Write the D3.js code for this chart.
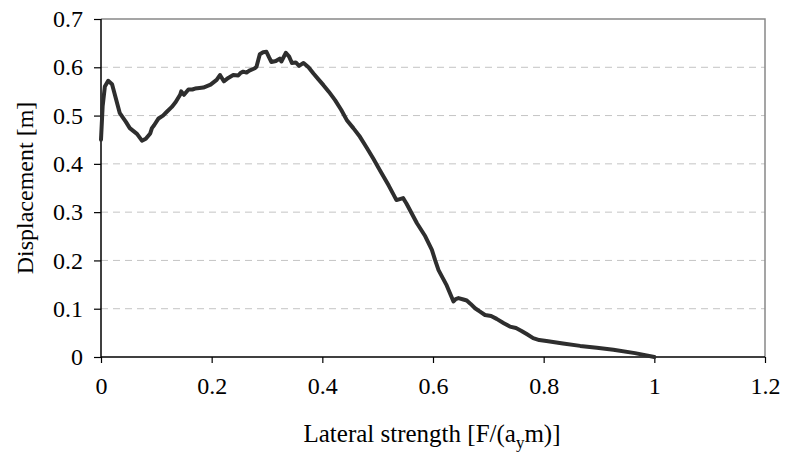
<!DOCTYPE html>
<html>
<head>
<meta charset="utf-8">
<script src="https://cdn.jsdelivr.net/npm/d3@7"></script>
<style>
  body { margin: 0; background: #fff; }
  svg text { font-family: "Liberation Serif", "Times New Roman", serif; fill: #000; }
</style>
</head>
<body>
<div class="dataviz"></div>
<script>
// lateral strength F/(ay m)
const strength = [0, 0.003, 0.007, 0.013, 0.02, 0.034, 0.045, 0.052, 0.065, 0.074, 0.081, 0.089, 0.092, 0.096, 0.104, 0.112, 0.119, 0.128, 0.135,
  0.143, 0.145, 0.150, 0.158, 0.165, 0.170, 0.178, 0.185, 0.198, 0.209, 0.215, 0.222, 0.230, 0.239, 0.248, 0.252, 0.257, 0.263, 0.268, 0.274, 0.278,
  0.281, 0.287, 0.293, 0.299, 0.304, 0.308, 0.316, 0.323, 0.326, 0.334, 0.340, 0.345, 0.352, 0.358, 0.366,
  0.375, 0.384, 0.393, 0.402, 0.412, 0.423, 0.434, 0.444, 0.456, 0.468, 0.480, 0.492, 0.504, 0.520, 0.534, 0.540, 0.546, 0.552, 0.571, 0.586,
  0.598, 0.604, 0.610, 0.624, 0.637, 0.641, 0.646, 0.655, 0.661, 0.668, 0.676, 0.685, 0.694, 0.705, 0.715,
  0.728, 0.739, 0.750, 0.760, 0.770, 0.781, 0.792, 0.805, 0.835, 0.866, 0.896, 0.926, 0.965, 1.0]
// displacement [m]
const displacement = [0.45, 0.52, 0.56, 0.572, 0.565, 0.505, 0.487, 0.474, 0.462, 0.448, 0.452, 0.463, 0.474, 0.48, 0.494, 0.500, 0.508, 0.518, 0.528,
  0.543, 0.55, 0.543, 0.554, 0.554, 0.556, 0.557, 0.558, 0.564, 0.574, 0.584, 0.571, 0.578, 0.584, 0.583, 0.588, 0.591, 0.589, 0.593, 0.596, 0.598,
  0.601, 0.627, 0.631, 0.632, 0.620, 0.611, 0.613, 0.618, 0.612, 0.630, 0.622, 0.609, 0.610, 0.603, 0.609,
  0.600, 0.587, 0.575, 0.563, 0.549, 0.532, 0.512, 0.491, 0.474, 0.456, 0.434, 0.411, 0.387, 0.355, 0.325, 0.327, 0.329, 0.318, 0.277, 0.250,
  0.222, 0.200, 0.180, 0.150, 0.115, 0.120, 0.122, 0.119, 0.117, 0.110, 0.101, 0.094, 0.087, 0.085, 0.079,
  0.070, 0.063, 0.060, 0.054, 0.047, 0.039, 0.035, 0.033, 0.028, 0.023, 0.019, 0.015, 0.008, 0.0]

const xTicks = [0, 0.2, 0.4, 0.6, 0.8, 1, 1.2]
const yTicks = [0, 0.1, 0.2, 0.3, 0.4, 0.5, 0.6, 0.7]

const data = strength.map((s, i) => ({ x: s, y: displacement[i] }))

const width = 786
const height = 461
const plotLeft = 101, plotRight = 765, plotTop = 19, plotBottom = 357
const serif = '"Liberation Serif", "Times New Roman", serif'

const svg = d3.select('.dataviz').append('svg').attr('width', width).attr('height', height)

const xScale = d3.scaleLinear().domain([0, 1.2]).range([plotLeft, plotRight])
const yScale = d3.scaleLinear().domain([0, 0.7]).range([plotBottom, plotTop])

// gridlines
svg.append('g')
  .selectAll('line')
  .data(yTicks.filter(t => t > 0 && t < 0.7))
  .enter()
  .append('line')
  .attr('x1', plotLeft)
  .attr('x2', plotRight)
  .attr('y1', d => yScale(d))
  .attr('y2', d => yScale(d))
  .attr('stroke', '#c4c4c4')
  .attr('stroke-width', 1)
  .attr('stroke-dasharray', '7,5')

// frame top and right
svg.append('path')
  .attr('d', `M${plotLeft},${yScale(0.7)}H${xScale(1.2)}V${yScale(0)}`)
  .attr('fill', 'none')
  .attr('stroke', '#888')
  .attr('stroke-width', 1.5)

// axes
const xAxis = svg.append('g')
  .attr('transform', `translate(0, ${plotBottom})`)
  .call(d3.axisBottom(xScale).tickValues(xTicks).tickSize(6).tickPadding(14).tickFormat(d3.format('~g')))

const yAxis = svg.append('g')
  .attr('transform', `translate(${plotLeft}, 0)`)
  .call(d3.axisLeft(yScale).tickValues(yTicks).tickSize(7).tickPadding(11).tickFormat(d => d === 0 ? '0' : d.toFixed(1)))

for (const ax of [xAxis, yAxis]) {
  ax.attr('font-family', null).attr('font-size', null)
  ax.select('.domain').attr('stroke', '#000').attr('stroke-width', 1.5)
  ax.selectAll('.tick line').attr('stroke', '#000').attr('stroke-width', 1.2)
  ax.selectAll('.tick text').style('font-size', '24px').style('font-family', serif).attr('fill', '#000')
}
xAxis.select('.domain').attr('d', `M${plotLeft},0H${plotRight}`)
yAxis.select('.domain').attr('d', `M0,${plotTop}V${plotBottom}`)

// the curve
const line = d3.line()
  .curve(d3.curveLinear)
  .x(d => xScale(d.x))
  .y(d => yScale(d.y))

svg.append('path')
  .datum(data)
  .attr('d', line)
  .attr('fill', 'none')
  .attr('stroke', '#2e2e2e')
  .attr('stroke-width', 4)
  .attr('stroke-linejoin', 'round')
  .attr('stroke-linecap', 'round')

// axis titles
const xTitle = svg.append('text')
  .attr('x', 432)
  .attr('y', 442)
  .attr('text-anchor', 'middle')
  .style('font-size', '25px')
  .style('font-family', serif)
xTitle.append('tspan').text('Lateral strength [F/(a')
xTitle.append('tspan').style('font-size', '17px').attr('dy', 6).text('y')
xTitle.append('tspan').attr('dy', -6).text('m)]')

svg.append('text')
  .attr('transform', `translate(33, ${(plotTop + plotBottom) / 2}) rotate(-90)`)
  .attr('text-anchor', 'middle')
  .style('font-size', '24px')
  .style('font-family', serif)
  .text('Displacement [m]')
</script>
</body>
</html>
